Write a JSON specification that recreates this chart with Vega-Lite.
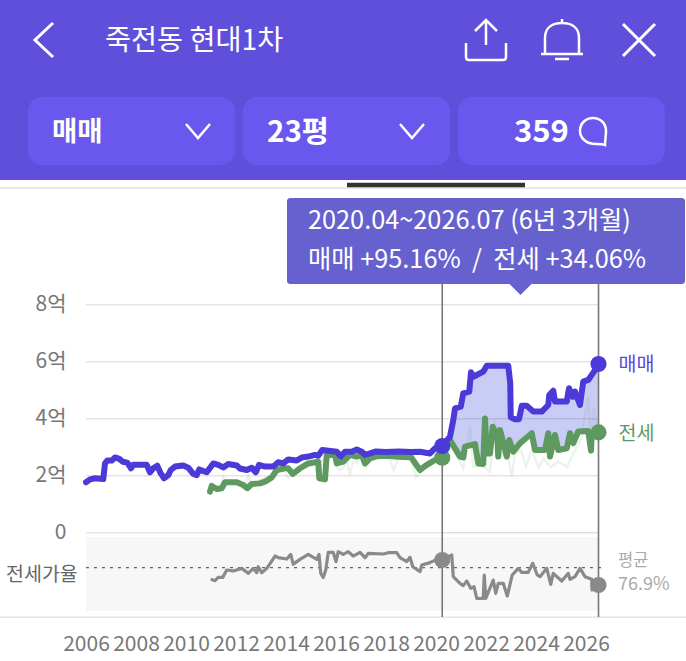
{
  "$schema": "https://vega.github.io/schema/vega-lite/v6.json",
  "width": 686,
  "height": 661,
  "padding": 0,
  "autosize": {"type": "none"},
  "background": "#ffffff",
  "config": {
    "font": "Noto Sans CJK KR",
    "view": {"stroke": null},
    "axis": {"labelFont": "Noto Sans CJK KR"}
  },
  "data": {"values": [{"screen": "chart"}]},
  "datasets": {
    "sale": [
      {"t":2006.0,"v":1.77},{"t":2006.16,"v":1.87},{"t":2006.36,"v":1.91},{"t":2006.69,"v":1.88},{"t":2006.76,"v":2.43},{"t":2006.85,"v":2.53},{"t":2007.03,"v":2.53},{"t":2007.16,"v":2.64},{"t":2007.33,"v":2.59},{"t":2007.47,"v":2.49},{"t":2007.65,"v":2.46},{"t":2007.8,"v":2.26},{"t":2007.89,"v":2.38},{"t":2008.43,"v":2.38},{"t":2008.56,"v":2.12},{"t":2008.69,"v":2.26},{"t":2008.85,"v":2.35},{"t":2008.99,"v":2.08},{"t":2009.12,"v":1.91},{"t":2009.29,"v":2.02},{"t":2009.39,"v":2.2},{"t":2009.56,"v":2.32},{"t":2009.89,"v":2.36},{"t":2010.09,"v":2.28},{"t":2010.29,"v":2.06},{"t":2010.43,"v":2.02},{"t":2010.53,"v":2.22},{"t":2010.69,"v":2.16},{"t":2010.83,"v":2.12},{"t":2011.09,"v":2.43},{"t":2011.29,"v":2.38},{"t":2011.49,"v":2.29},{"t":2011.69,"v":2.41},{"t":2012.03,"v":2.36},{"t":2012.16,"v":2.25},{"t":2012.43,"v":2.2},{"t":2012.63,"v":2.28},{"t":2012.79,"v":2.12},{"t":2012.92,"v":2.38},{"t":2013.16,"v":2.32},{"t":2013.49,"v":2.32},{"t":2013.69,"v":2.47},{"t":2013.89,"v":2.43},{"t":2014.09,"v":2.57},{"t":2014.43,"v":2.53},{"t":2014.63,"v":2.64},{"t":2014.89,"v":2.67},{"t":2015.16,"v":2.73},{"t":2015.29,"v":2.7},{"t":2015.45,"v":2.9},{"t":2016.03,"v":2.84},{"t":2016.19,"v":2.67},{"t":2016.36,"v":2.84},{"t":2016.63,"v":2.84},{"t":2016.83,"v":2.92},{"t":2017.03,"v":2.84},{"t":2017.16,"v":2.73},{"t":2017.36,"v":2.78},{"t":2017.6,"v":2.85},{"t":2018.0,"v":2.83},{"t":2018.5,"v":2.85},{"t":2019.0,"v":2.83},{"t":2019.36,"v":2.84},{"t":2019.76,"v":2.78},{"t":2019.96,"v":2.96},{"t":2020.25,"v":3.04},{"t":2020.56,"v":3.37},{"t":2020.69,"v":3.95},{"t":2020.76,"v":4.36},{"t":2020.99,"v":4.42},{"t":2021.09,"v":4.89},{"t":2021.33,"v":4.95},{"t":2021.4,"v":5.63},{"t":2021.49,"v":5.47},{"t":2021.89,"v":5.65},{"t":2022.03,"v":5.86},{"t":2022.89,"v":5.86},{"t":2022.97,"v":5.24},{"t":2022.99,"v":4.05},{"t":2023.16,"v":3.98},{"t":2023.32,"v":3.98},{"t":2023.43,"v":4.45},{"t":2023.63,"v":4.45},{"t":2023.89,"v":4.25},{"t":2024.23,"v":4.25},{"t":2024.49,"v":4.48},{"t":2024.53,"v":4.83},{"t":2024.69,"v":4.98},{"t":2024.76,"v":4.6},{"t":2025.23,"v":4.6},{"t":2025.32,"v":5.07},{"t":2025.47,"v":4.77},{"t":2025.56,"v":4.95},{"t":2025.76,"v":4.48},{"t":2025.89,"v":5.3},{"t":2026.09,"v":5.36},{"t":2026.32,"v":5.65},{"t":2026.5,"v":5.92}
    ],
    "jeonse": [
      {"t":2010.96,"v":1.44},{"t":2011.03,"v":1.64},{"t":2011.23,"v":1.53},{"t":2011.43,"v":1.56},{"t":2011.56,"v":1.77},{"t":2012.03,"v":1.77},{"t":2012.29,"v":1.67},{"t":2012.45,"v":1.56},{"t":2012.63,"v":1.71},{"t":2012.96,"v":1.73},{"t":2013.16,"v":1.79},{"t":2013.43,"v":1.94},{"t":2013.63,"v":2.2},{"t":2013.96,"v":2.26},{"t":2014.09,"v":2.26},{"t":2014.27,"v":2.06},{"t":2014.56,"v":2.26},{"t":2014.89,"v":2.43},{"t":2015.29,"v":2.49},{"t":2015.33,"v":1.91},{"t":2015.56,"v":1.87},{"t":2015.63,"v":2.73},{"t":2015.96,"v":2.73},{"t":2016.03,"v":2.43},{"t":2016.29,"v":2.49},{"t":2016.56,"v":2.73},{"t":2016.83,"v":2.67},{"t":2017.03,"v":2.73},{"t":2017.16,"v":2.43},{"t":2017.36,"v":2.61},{"t":2017.6,"v":2.68},{"t":2018.0,"v":2.7},{"t":2018.5,"v":2.66},{"t":2019.0,"v":2.65},{"t":2019.36,"v":2.2},{"t":2019.63,"v":2.38},{"t":2019.96,"v":2.55},{"t":2020.25,"v":2.63},{"t":2020.56,"v":3.25},{"t":2020.96,"v":2.67},{"t":2021.09,"v":2.64},{"t":2021.16,"v":3.02},{"t":2021.56,"v":3.11},{"t":2021.69,"v":2.43},{"t":2021.89,"v":2.41},{"t":2021.96,"v":4.01},{"t":2022.03,"v":2.78},{"t":2022.16,"v":2.78},{"t":2022.27,"v":3.72},{"t":2022.45,"v":3.37},{"t":2022.49,"v":2.67},{"t":2022.56,"v":3.6},{"t":2022.83,"v":2.67},{"t":2022.93,"v":3.25},{"t":2023.09,"v":2.84},{"t":2023.36,"v":3.14},{"t":2023.83,"v":3.49},{"t":2023.96,"v":2.9},{"t":2024.36,"v":2.9},{"t":2024.49,"v":3.49},{"t":2024.56,"v":2.67},{"t":2024.76,"v":3.43},{"t":2024.89,"v":2.9},{"t":2025.23,"v":2.96},{"t":2025.36,"v":3.49},{"t":2025.49,"v":3.14},{"t":2025.69,"v":3.55},{"t":2026.09,"v":3.57},{"t":2026.2,"v":2.88},{"t":2026.23,"v":3.43},{"t":2026.5,"v":3.52}
    ],
    "jeonse_trades": [
      {"t":2011.4,"v":1.75},{"t":2011.5,"v":1.96},{"t":2011.6,"v":1.75},{"t":2012.4,"v":1.75},{"t":2012.5,"v":2.02},{"t":2012.6,"v":1.7},{"t":2013.9,"v":2.2},{"t":2014.1,"v":1.91},{"t":2014.3,"v":2.1},{"t":2015.9,"v":2.7},{"t":2016.1,"v":2.2},{"t":2016.3,"v":2.26},{"t":2016.4,"v":2.6},{"t":2016.56,"v":2.02},{"t":2016.7,"v":2.6},{"t":2016.83,"v":2.43},{"t":2017.0,"v":2.7},{"t":2017.2,"v":2.3},{"t":2017.4,"v":2.6},{"t":2018.1,"v":2.65},{"t":2018.3,"v":2.2},{"t":2018.5,"v":2.6},{"t":2019.0,"v":2.6},{"t":2019.2,"v":1.95},{"t":2019.6,"v":2.3},{"t":2020.0,"v":2.5},{"t":2020.3,"v":2.6},{"t":2020.6,"v":3.0},{"t":2020.9,"v":2.6},{"t":2021.09,"v":2.26},{"t":2021.36,"v":3.72},{"t":2021.49,"v":2.32},{"t":2021.8,"v":2.4},{"t":2022.16,"v":2.14},{"t":2022.36,"v":3.95},{"t":2022.6,"v":2.8},{"t":2022.9,"v":2.6},{"t":2023.03,"v":1.97},{"t":2023.16,"v":2.78},{"t":2023.4,"v":2.9},{"t":2023.6,"v":2.35},{"t":2023.83,"v":2.9},{"t":2024.1,"v":2.3},{"t":2024.3,"v":2.6},{"t":2024.6,"v":2.3},{"t":2024.9,"v":2.5},{"t":2025.23,"v":2.3},{"t":2025.5,"v":2.8},{"t":2025.8,"v":3.3},{"t":2026.09,"v":4.77},{"t":2026.2,"v":3.0},{"t":2026.3,"v":4.4},{"t":2026.45,"v":3.5}
    ],
    "ratio": [
      {"t":2010.99,"v":64.3},{"t":2011.16,"v":62.8},{"t":2011.29,"v":66.4},{"t":2011.47,"v":66.4},{"t":2011.63,"v":74.4},{"t":2011.89,"v":73.3},{"t":2012.23,"v":76.2},{"t":2012.49,"v":70.8},{"t":2012.69,"v":76.2},{"t":2012.83,"v":71.5},{"t":2012.89,"v":78},{"t":2013.03,"v":71.5},{"t":2013.23,"v":76.2},{"t":2013.39,"v":82.4},{"t":2013.56,"v":89.6},{"t":2013.69,"v":87.8},{"t":2014.03,"v":86.4},{"t":2014.19,"v":91.4},{"t":2014.29,"v":80.6},{"t":2014.43,"v":83.5},{"t":2014.56,"v":86},{"t":2014.89,"v":91.4},{"t":2015.23,"v":86},{"t":2015.32,"v":91.4},{"t":2015.39,"v":70.8},{"t":2015.49,"v":66.4},{"t":2015.59,"v":74.4},{"t":2015.69,"v":93.6},{"t":2015.89,"v":93.6},{"t":2016.0,"v":83.5},{"t":2016.09,"v":94.3},{"t":2016.29,"v":91.4},{"t":2016.49,"v":94.3},{"t":2016.69,"v":89.6},{"t":2016.96,"v":93.6},{"t":2017.16,"v":87.8},{"t":2017.29,"v":92.5},{"t":2017.89,"v":91.8},{"t":2018.09,"v":93.2},{"t":2018.43,"v":93.2},{"t":2018.56,"v":87.8},{"t":2018.83,"v":83.5},{"t":2018.96,"v":88.2},{"t":2019.07,"v":78},{"t":2019.36,"v":72.6},{"t":2019.43,"v":79.8},{"t":2019.76,"v":82.4},{"t":2020.03,"v":86},{"t":2020.25,"v":85.3},{"t":2020.63,"v":90.7},{"t":2020.69,"v":67.2},{"t":2020.96,"v":59.9},{"t":2021.09,"v":57.4},{"t":2021.23,"v":62.4},{"t":2021.39,"v":54.5},{"t":2021.52,"v":56.3},{"t":2021.63,"v":43.6},{"t":2021.89,"v":43.6},{"t":2021.93,"v":69},{"t":2021.99,"v":43.6},{"t":2022.29,"v":63.5},{"t":2022.39,"v":49},{"t":2022.49,"v":59.9},{"t":2022.69,"v":59.9},{"t":2022.85,"v":46.1},{"t":2023.05,"v":69},{"t":2023.29,"v":76.2},{"t":2023.43,"v":71.9},{"t":2023.69,"v":71.9},{"t":2023.87,"v":81.7},{"t":2024.05,"v":69},{"t":2024.16,"v":67.2},{"t":2024.43,"v":76.2},{"t":2024.59,"v":58.8},{"t":2024.69,"v":70.8},{"t":2025.03,"v":62.4},{"t":2025.29,"v":70.8},{"t":2025.36,"v":64.3},{"t":2025.56,"v":67.2},{"t":2025.76,"v":76.2},{"t":2025.96,"v":67.2},{"t":2026.23,"v":64.3},{"t":2026.24,"v":52.7},{"t":2026.5,"v":58.1}
    ],
    "grid": [{"v":0},{"v":2},{"v":4},{"v":6},{"v":8}],
    "period": [{"t":2020.25},{"t":2026.5}]
  },
  "resolve": {"scale": {"x": "independent", "y": "independent"}},
  "layer": [
    {
      "layer": [
        {"mark": {"type": "rect", "fill": "#5f4fdb"}, "encoding": {"x": {"datum": 0, "scale": {"domain": [0, 686], "nice": false, "zero": false}, "axis": null}, "x2": {"datum": 686}, "y": {"datum": 0, "scale": {"domain": [661, 0], "nice": false, "zero": false}, "axis": null}, "y2": {"datum": 180}}},
        {"mark": {"type": "rect", "fill": "#6a58ee", "cornerRadius": 14}, "encoding": {"x": {"datum": 28, "axis": null}, "x2": {"datum": 235}, "y": {"datum": 97, "axis": null}, "y2": {"datum": 165}}},
        {"mark": {"type": "rect", "fill": "#6a58ee", "cornerRadius": 14}, "encoding": {"x": {"datum": 243, "axis": null}, "x2": {"datum": 450}, "y": {"datum": 97, "axis": null}, "y2": {"datum": 165}}},
        {"mark": {"type": "rect", "fill": "#6a58ee", "cornerRadius": 14}, "encoding": {"x": {"datum": 458, "axis": null}, "x2": {"datum": 665}, "y": {"datum": 97, "axis": null}, "y2": {"datum": 165}}},
        {"mark": {"type": "rect", "fill": "#e2e2e2"}, "encoding": {"x": {"datum": 0, "axis": null}, "x2": {"datum": 686}, "y": {"datum": 187.3, "axis": null}, "y2": {"datum": 188.8}}},
        {"mark": {"type": "rect", "fill": "#333333"}, "encoding": {"x": {"datum": 347, "axis": null}, "x2": {"datum": 525}, "y": {"datum": 182.8, "axis": null}, "y2": {"datum": 187.3}}},
        {"mark": {"type": "rect", "fill": "#e4e4e4"}, "encoding": {"x": {"datum": 0, "axis": null}, "x2": {"datum": 686}, "y": {"datum": 616.5, "axis": null}, "y2": {"datum": 618}}},
        {"mark": {"type": "rect", "fill": "#6661ce", "cornerRadius": 3}, "encoding": {"x": {"datum": 287, "axis": null}, "x2": {"datum": 685, "axis": null}, "y": {"datum": 198, "axis": null}, "y2": {"datum": 284}}},
        {"mark": {"type": "point", "shape": "M-11,0 L11,0 L0,11 Z", "size": 4, "filled": true, "fill": "#6661ce", "opacity": 1}, "encoding": {"x": {"datum": 520.5, "axis": null}, "y": {"datum": 284, "axis": null}}},
        {"mark": {"type": "point", "shape": "M9,-17 L-9,0 L9,17", "size": 4, "filled": false, "stroke": "#ffffff", "strokeWidth": 3, "opacity": 1}, "encoding": {"x": {"datum": 44, "axis": null}, "y": {"datum": 40, "axis": null}}},
        {"mark": {"type": "point", "shape": "M0,5 L0,-20 M-11,-9 L0,-20 L11,-9 M-20,3 L-20,17 Q-20,20 -17,20 L17,20 Q20,20 20,17 L20,3", "size": 4, "filled": false, "stroke": "#ffffff", "strokeWidth": 2.5, "opacity": 1}, "encoding": {"x": {"datum": 486, "axis": null}, "y": {"datum": 40, "axis": null}}},
        {"mark": {"type": "point", "shape": "M-17,13 L-17,-2 C-17,-13 -9,-17 0,-17 C9,-17 17,-13 17,-2 L17,13 M-21,14 L21,14 M-7,19 L7,19 M0,-21 L0,-17", "size": 4, "filled": false, "stroke": "#ffffff", "strokeWidth": 2.5, "opacity": 1}, "encoding": {"x": {"datum": 562, "axis": null}, "y": {"datum": 40, "axis": null}}},
        {"mark": {"type": "point", "shape": "M-16,-16 L16,16 M-16,16 L16,-16", "size": 4, "filled": false, "stroke": "#ffffff", "strokeWidth": 3, "opacity": 1}, "encoding": {"x": {"datum": 639, "axis": null}, "y": {"datum": 40, "axis": null}}},
        {"mark": {"type": "point", "shape": "M-12,-7 L0,7 L12,-7", "size": 4, "filled": false, "stroke": "#ffffff", "strokeWidth": 2.5, "opacity": 1}, "encoding": {"x": {"datum": 198, "axis": null}, "y": {"datum": 131, "axis": null}}},
        {"mark": {"type": "point", "shape": "M-12,-7 L0,7 L12,-7", "size": 4, "filled": false, "stroke": "#ffffff", "strokeWidth": 2.5, "opacity": 1}, "encoding": {"x": {"datum": 412, "axis": null}, "y": {"datum": 131, "axis": null}}},
        {"mark": {"type": "point", "shape": "M3,13 C-8,13 -13,6 -13,0 C-13,-8 -7,-13 0,-13 C7,-13 13,-8 13,0 C13,5 12,9 12,14 C10,13 7,13 3,13 Z", "size": 4, "filled": false, "stroke": "#ffffff", "strokeWidth": 2.5, "opacity": 1}, "encoding": {"x": {"datum": 593, "axis": null}, "y": {"datum": 131, "axis": null}}},
        {"mark": {"type": "text", "align": "left", "baseline": "middle", "fontSize": 28.3, "fill": "#ffffff"}, "encoding": {"x": {"datum": 105, "axis": null}, "y": {"datum": 42, "axis": null}, "text": {"value": "죽전동 현대1차"}}},
        {"mark": {"type": "text", "align": "left", "baseline": "middle", "fontSize": 27.5, "fontWeight": "bold", "fill": "#ffffff"}, "encoding": {"x": {"datum": 52, "axis": null}, "y": {"datum": 133, "axis": null}, "text": {"value": "매매"}}},
        {"mark": {"type": "text", "align": "left", "baseline": "middle", "fontSize": 29.5, "fontWeight": "bold", "fill": "#ffffff"}, "encoding": {"x": {"datum": 267, "axis": null}, "y": {"datum": 133, "axis": null}, "text": {"value": "23평"}}},
        {"mark": {"type": "text", "align": "left", "baseline": "middle", "fontSize": 31, "fontWeight": "bold", "fill": "#ffffff"}, "encoding": {"x": {"datum": 514, "axis": null}, "y": {"datum": 133, "axis": null}, "text": {"value": "359"}}},
        {"mark": {"type": "text", "align": "left", "baseline": "middle", "fontSize": 25.3, "fill": "#ffffff"}, "encoding": {"x": {"datum": 308, "axis": null}, "y": {"datum": 221, "axis": null}, "text": {"value": "2020.04~2026.07 (6년 3개월)"}}},
        {"mark": {"type": "text", "align": "left", "baseline": "middle", "fontSize": 25.3, "fill": "#ffffff"}, "encoding": {"x": {"datum": 308, "axis": null}, "y": {"datum": 260, "axis": null}, "text": {"value": "매매 +95.16%\u00a0\u00a0/\u00a0\u00a0전세 +34.06%"}}},
        {"mark": {"type": "text", "align": "left", "baseline": "middle", "fontSize": 19.5, "fill": "#666666"}, "encoding": {"x": {"datum": 6, "axis": null}, "y": {"datum": 575, "axis": null}, "text": {"value": "전세가율"}}},
        {"mark": {"type": "text", "align": "left", "baseline": "middle", "fontSize": 16.5, "fill": "#aaaaaa"}, "encoding": {"x": {"datum": 618, "axis": null}, "y": {"datum": 561, "axis": null}, "text": {"value": "평균"}}},
        {"mark": {"type": "text", "align": "left", "baseline": "middle", "fontSize": 18, "fill": "#aaaaaa"}, "encoding": {"x": {"datum": 618, "axis": null}, "y": {"datum": 585, "axis": null}, "text": {"value": "76.9%"}}}
      ]
    },
    {
      "layer": [
        {"mark": {"type": "rect", "fill": "#f7f7f7"}, "encoding": {"x": {"datum": 2006, "scale": {"domain": [2002.56, 2030], "nice": false, "zero": false}, "axis": {"values": [2006,2008,2010,2012,2014,2016,2018,2020,2022,2024,2026], "format": "d", "title": null, "domain": false, "ticks": false, "grid": false, "offset": -28, "labelPadding": 0, "labelFontSize": 21, "labelColor": "#777777", "labelOverlap": false, "labelFlush": false, "labelBound": false}}, "x2": {"datum": 2026.5}, "y": {"datum": -0.15, "scale": {"domain": [-4.502, 18.69], "nice": false, "zero": false}, "axis": {"values": [0,2,4,6,8], "labelExpr": "datum.value === 0 ? '0' : datum.value + '억'", "title": null, "domain": false, "ticks": false, "grid": false, "offset": -66, "labelPadding": 0, "labelFontSize": 21, "labelColor": "#777777", "labelOverlap": false, "labelBound": false}}, "y2": {"datum": -2.75}}},
        {"data": {"name": "sale"}, "transform": [{"filter": "datum.t >= 2020.25"}], "mark": {"type": "area", "fill": "#c9cdf5"}, "encoding": {"x": {"field": "t", "type": "quantitative"}, "y": {"field": "v", "type": "quantitative"}, "y2": {"datum": 0}}},
        {"data": {"name": "jeonse"}, "transform": [{"filter": "datum.t >= 2020.25"}], "mark": {"type": "area", "fill": "#ffffff"}, "encoding": {"x": {"field": "t", "type": "quantitative"}, "y": {"field": "v", "type": "quantitative"}, "y2": {"datum": 0}}},
        {"data": {"name": "grid"}, "mark": {"type": "rule", "stroke": "#000000", "strokeOpacity": 0.1, "strokeWidth": 1.5}, "encoding": {"x": {"datum": 2006}, "x2": {"datum": 2026.5}, "y": {"field": "v", "type": "quantitative"}}},
        {"data": {"name": "jeonse_trades"}, "mark": {"type": "line", "stroke": "#5e9a5f", "strokeOpacity": 0.12, "strokeWidth": 2.5}, "encoding": {"x": {"field": "t", "type": "quantitative"}, "y": {"field": "v", "type": "quantitative"}}},
        {"data": {"name": "period"}, "mark": {"type": "rule", "stroke": "#777777", "strokeWidth": 1.6}, "encoding": {"x": {"field": "t", "type": "quantitative"}, "y": {"datum": 8.73}, "y2": {"datum": -2.96}}},
        {"data": {"name": "jeonse"}, "mark": {"type": "line", "stroke": "#5e9a5f", "strokeWidth": 6, "strokeCap": "round", "strokeJoin": "round"}, "encoding": {"x": {"field": "t", "type": "quantitative"}, "y": {"field": "v", "type": "quantitative"}}},
        {"data": {"name": "sale"}, "mark": {"type": "line", "stroke": "#4b39d8", "strokeWidth": 6, "strokeCap": "round", "strokeJoin": "round"}, "encoding": {"x": {"field": "t", "type": "quantitative"}, "y": {"field": "v", "type": "quantitative"}}},
        {"data": {"name": "jeonse"}, "transform": [{"filter": "datum.t === 2020.25 || datum.t === 2026.5"}], "mark": {"type": "circle", "fill": "#5e9a5f", "size": 260, "opacity": 1}, "encoding": {"x": {"field": "t", "type": "quantitative"}, "y": {"field": "v", "type": "quantitative"}}},
        {"data": {"name": "sale"}, "transform": [{"filter": "datum.t === 2020.25 || datum.t === 2026.5"}], "mark": {"type": "circle", "fill": "#4b39d8", "size": 260, "opacity": 1}, "encoding": {"x": {"field": "t", "type": "quantitative"}, "y": {"field": "v", "type": "quantitative"}}},
        {"data": {"name": "sale"}, "transform": [{"filter": "datum.t === 2026.5"}], "mark": {"type": "text", "align": "left", "baseline": "middle", "dx": 20, "dy": 1.5, "fontSize": 19.5, "fill": "#5a49d6"}, "encoding": {"x": {"field": "t", "type": "quantitative"}, "y": {"field": "v", "type": "quantitative"}, "text": {"value": "매매"}}},
        {"data": {"name": "jeonse"}, "transform": [{"filter": "datum.t === 2026.5"}], "mark": {"type": "text", "align": "left", "baseline": "middle", "dx": 20, "dy": 1.5, "fontSize": 19.5, "fill": "#5e9a5f"}, "encoding": {"x": {"field": "t", "type": "quantitative"}, "y": {"field": "v", "type": "quantitative"}, "text": {"value": "전세"}}}
      ]
    },
    {
      "layer": [
        {"mark": {"type": "rule", "stroke": "#666666", "strokeWidth": 1.2, "strokeDash": [3, 5]}, "encoding": {"x": {"datum": 2006, "scale": {"domain": [2002.56, 2030], "nice": false, "zero": false}, "axis": null}, "x2": {"datum": 2026.7}, "y": {"datum": 76.9, "scale": {"domain": [-24.5, 694], "nice": false, "zero": false}, "axis": null}}},
        {"data": {"name": "ratio"}, "mark": {"type": "line", "stroke": "#8a8a8a", "strokeWidth": 3.2, "strokeJoin": "round"}, "encoding": {"x": {"field": "t", "type": "quantitative", "axis": null}, "y": {"field": "v", "type": "quantitative", "axis": null}}},
        {"data": {"name": "ratio"}, "transform": [{"filter": "datum.t === 2020.25 || datum.t === 2026.5"}], "mark": {"type": "circle", "fill": "#8a8a8a", "size": 260, "opacity": 1}, "encoding": {"x": {"field": "t", "type": "quantitative", "axis": null}, "y": {"field": "v", "type": "quantitative", "axis": null}}}
      ]
    }
  ]
}
